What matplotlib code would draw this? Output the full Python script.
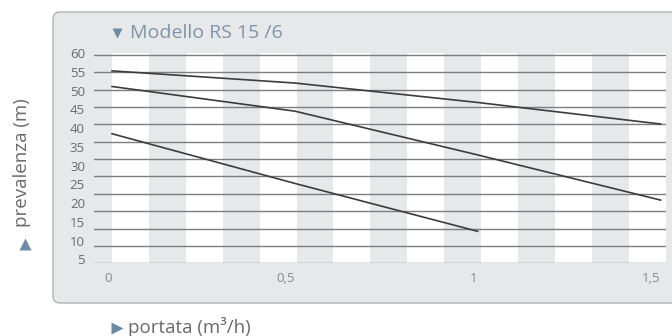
import numpy as np
import matplotlib
matplotlib.use("Agg")
import matplotlib.pyplot as plt
from matplotlib.patches import FancyBboxPatch
from matplotlib.lines import Line2D
from matplotlib.transforms import IdentityTransform

# ---- data ----
portata = [0.0, 0.5, 1.0, 1.5]
curva_alta = [55.4, 51.9, 46.3, 40.1]
curva_media = [50.9, 43.8, 31.2, 18.2]
portata_bassa = [0.0, 0.5, 1.0]
curva_bassa = [37.3, 23.0, 9.2]
y_grid = list(range(0, 61, 5))
y_labels = ["60", "55", "50", "45", "40", "35", "30", "25", "20", "15", "10", "5"]
x_ticks = [0.0, 0.5, 1.0, 1.5]
x_labels = ["0", "0,5", "1", "1,5"]
title = "Modello RS 15 /6"
xlabel = "portata (m³/h)"
ylabel = "prevalenza (m)"

W, H = 672, 336
fig = plt.figure(figsize=(W / 100, H / 100), dpi=100)
FONT = ["Open Sans", "DejaVu Sans"]
PANEL = "#e7e8ea"
ACCENT = "#6d8aa3"

# background panel (pixel coordinates)
panel = FancyBboxPatch((53, H - 303), 700 - 53, 303 - 12,
                       boxstyle="round,pad=0,rounding_size=7",
                       transform=IdentityTransform(), fc=PANEL, ec="#b3b3b3",
                       lw=1.0, zorder=-5)
fig.add_artist(panel)

# axes
L, R, T, B = 94, 665.7, 53.3, 263.3
ax = fig.add_axes([L / W, (H - B) / H, (R - L) / W, (B - T) / H])
ax.set_facecolor("none")
x0_px = 112
x_per = 365.7
xmin = -(x0_px - L) / x_per
xmax = (R - x0_px) / x_per
ax.set_xlim(xmin, xmax)
ax.set_ylim(0, 60)
for s in ax.spines.values():
    s.set_visible(False)

# stripes
ncol = 15
w = xmax / ncol
for i in range(0, ncol, 2):
    ax.axvspan(i * w, (i + 1) * w, color="white", lw=0, zorder=0)

# grid lines
for g in y_grid:
    ax.axhline(g, color="#7d7d7d", lw=1.0, zorder=1)

# curves
ax.plot(portata, curva_alta, color="#3c3c3c", lw=1.2, zorder=3)
ax.plot(portata, curva_media, color="#3c3c3c", lw=1.2, zorder=3)
ax.plot(portata_bassa, curva_bassa, color="#3c3c3c", lw=1.2, zorder=3)

# y tick labels (spread slightly differently from the grid, as in original)
top_lab = 60 - (51.7 - T) / ((B - T) / 60)
bot_lab = 60 - (259.3 - T) / ((B - T) / 60)
ax.set_yticks(np.linspace(top_lab, bot_lab, len(y_labels)))
ax.set_yticklabels(y_labels, fontsize=9.5, color="#6a6a6a", family=FONT)
ax.tick_params(axis="y", length=0, pad=6.5)

ax.set_xticks(x_ticks)
ax.set_xticklabels(x_labels, fontsize=9.5, color="#8a8a8a", family=FONT)
ax.tick_params(axis="x", length=0, pad=6.0)
for lab in ax.get_xticklabels():
    lab.set_ha("right")


def tri(xp, yp, marker, size_px):
    fig.add_artist(Line2D([xp], [H - yp], marker=marker, ms=size_px * 0.72,
                          color=ACCENT, mec="none", ls="none",
                          transform=IdentityTransform()))


# title
tri(116.5, 33, "v", 9.5)
fig.text(129.5 / W, (H - 33.5) / H, title, fontsize=14, color="#7c94aa",
         family=FONT, ha="left", va="center")

# x label
tri(117, 328, ">", 12)
fig.text(127.5 / W, (H - 327) / H, xlabel, fontsize=13.5, color="#6a6a6a",
         family=FONT, ha="left", va="center")

# y label
tri(25, 244, "^", 12)
fig.text(22 / W, (H - 163) / H, ylabel, fontsize=13.5, color="#6a6a6a",
         family=FONT, ha="center", va="center", rotation=90)

fig.savefig("out.png", dpi=100)
